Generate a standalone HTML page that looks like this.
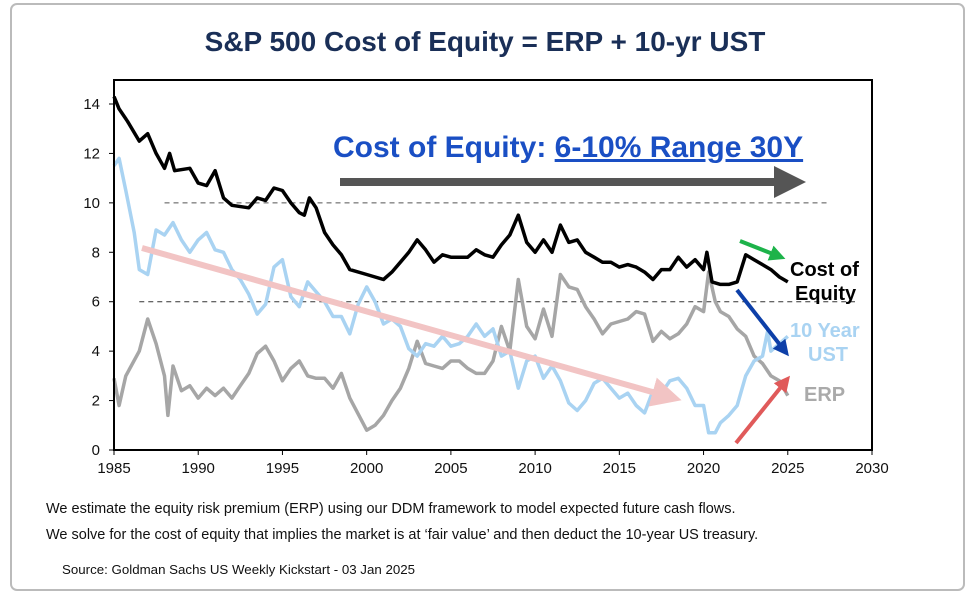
<!DOCTYPE html>
<html><head><meta charset="utf-8"><style>
body{margin:0;background:#fff;font-family:"Liberation Sans",Arial,sans-serif}
svg{display:block}
</style></head><body>
<svg width="969" height="601" viewBox="0 0 969 601" xmlns="http://www.w3.org/2000/svg">
<defs>
<marker id="mGray" markerWidth="4" markerHeight="4" refX="2" refY="2" orient="auto" markerUnits="strokeWidth"><path d="M0,0L4,2L0,4z" fill="#555"/></marker>
<marker id="mPink" markerWidth="5" markerHeight="5" refX="3" refY="2.5" orient="auto" markerUnits="strokeWidth"><path d="M0,0L5,2.5L0,5z" fill="#f2c4c4"/></marker>
<marker id="mGreen" markerWidth="4" markerHeight="4" refX="2" refY="2" orient="auto" markerUnits="strokeWidth"><path d="M0,0L4,2L0,4z" fill="#1db34a"/></marker>
<marker id="mBlue" markerWidth="4" markerHeight="4" refX="2" refY="2" orient="auto" markerUnits="strokeWidth"><path d="M0,0L4,2L0,4z" fill="#0d3fa8"/></marker>
<marker id="mRed" markerWidth="4" markerHeight="4" refX="2" refY="2" orient="auto" markerUnits="strokeWidth"><path d="M0,0L4,2L0,4z" fill="#e05a5a"/></marker>
</defs>
<rect x="11" y="4" width="953" height="586" rx="6" fill="#fff" stroke="#bbb" stroke-width="2"/>
<text x="485" y="51" text-anchor="middle" font-size="28" font-weight="bold" fill="#1a2f57">S&amp;P 500 Cost of Equity = ERP + 10-yr UST</text>
<g id="plot"></g>
<text x="333" y="157" font-size="30" font-weight="bold" fill="#1a4fc4">Cost of Equity: <tspan text-decoration="underline">6-10% Range 30Y</tspan></text>
<line x1="340" y1="182" x2="790" y2="182" stroke="#555" stroke-width="8" marker-end="url(#mGray)"/>
<line x1="142" y1="248" x2="670" y2="397" stroke="#f2c4c4" stroke-width="6" marker-end="url(#mPink)"/>
<line x1="740" y1="241" x2="778" y2="256" stroke="#1db34a" stroke-width="4" marker-end="url(#mGreen)"/>
<line x1="737" y1="290" x2="784" y2="350" stroke="#0d3fa8" stroke-width="4" marker-end="url(#mBlue)"/>
<line x1="736" y1="443" x2="785" y2="382" stroke="#e05a5a" stroke-width="4" marker-end="url(#mRed)"/>
<text x="790" y="276" font-size="20" font-weight="bold" fill="#000">Cost of</text>
<text x="795" y="300" font-size="20" font-weight="bold" fill="#000">Equity</text>
<text x="790" y="337" font-size="20" font-weight="bold" fill="#a9d3f2">10 Year</text>
<text x="808" y="361" font-size="20" font-weight="bold" fill="#a9d3f2">UST</text>
<text x="804" y="401" font-size="20" font-weight="bold" fill="#aaa">ERP</text>
<text x="46" y="513" font-size="14.5" fill="#111">We estimate the equity risk premium (ERP) using our DDM framework to model expected future cash flows.</text>
<text x="46" y="539" font-size="14.5" fill="#111">We solve for the cost of equity that implies the market is at ‘fair value’ and then deduct the 10-year US treasury.</text>
<text x="62" y="574" font-size="13.3" fill="#111">Source: Goldman Sachs US Weekly Kickstart - 03 Jan 2025</text>
</svg>
<script>
const yearTicks=[1985,1990,1995,2000,2005,2010,2015,2020,2025,2030];
const valueTicks=[0,2,4,6,8,10,12,14];
const coeYears=[1985,1985.3,1985.8,1986.5,1987,1987.5,1988,1988.3,1988.6,1989.5,1990,1990.5,1991,1991.5,1992,1993,1993.5,1994,1994.5,1995,1995.5,1996,1996.3,1996.6,1997,1997.5,1998,1998.5,1999,2000,2001,2001.5,2002,2002.5,2003,2003.5,2004,2004.5,2005,2006,2006.5,2007,2007.5,2008,2008.5,2009,2009.5,2010,2010.5,2011,2011.5,2012,2012.5,2013,2013.5,2014,2014.5,2015,2015.5,2016,2016.5,2017,2017.5,2018,2018.5,2019,2019.5,2020,2020.2,2020.5,2021,2021.5,2022,2022.5,2023,2023.5,2024,2024.5,2025];
const coeValues=[14.3,13.8,13.3,12.5,12.8,12.0,11.4,12.0,11.3,11.4,10.8,10.7,11.3,10.2,9.9,9.8,10.2,10.1,10.6,10.5,10.0,9.6,9.5,10.2,9.8,8.8,8.3,7.9,7.3,7.1,6.9,7.2,7.6,8.0,8.5,8.1,7.6,7.9,7.8,7.8,8.1,7.9,7.8,8.3,8.7,9.5,8.4,8.0,8.5,8.0,9.1,8.4,8.5,8.0,7.8,7.6,7.6,7.4,7.5,7.4,7.2,6.9,7.3,7.3,7.8,7.4,7.7,7.3,8.0,6.8,6.7,6.7,6.8,7.9,7.7,7.5,7.3,7.0,6.8];
const ustYears=[1985,1985.3,1985.7,1986.2,1986.5,1987,1987.5,1988,1988.5,1989,1989.5,1990,1990.5,1991,1991.5,1992,1992.5,1993,1993.5,1994,1994.5,1995,1995.5,1996,1996.5,1997,1997.5,1998,1998.5,1999,1999.5,2000,2000.5,2001,2001.5,2002,2002.5,2003,2003.5,2004,2004.5,2005,2005.5,2006,2006.5,2007,2007.5,2008,2008.5,2009,2009.5,2010,2010.5,2011,2011.5,2012,2012.5,2013,2013.5,2014,2014.5,2015,2015.5,2016,2016.5,2017,2017.5,2018,2018.5,2019,2019.5,2020,2020.3,2020.7,2021,2021.5,2022,2022.5,2023,2023.5,2023.8,2024,2024.5,2025];
const ustValues=[11.5,11.8,10.5,8.8,7.3,7.1,8.9,8.7,9.2,8.5,8.0,8.5,8.8,8.1,8.0,7.3,6.9,6.3,5.5,5.9,7.4,7.7,6.2,5.8,6.8,6.4,6.0,5.4,5.4,4.7,5.9,6.6,6.0,5.1,5.3,5.0,4.1,3.8,4.3,4.2,4.6,4.2,4.3,4.6,5.1,4.6,4.9,3.8,4.0,2.5,3.6,3.8,2.9,3.4,2.8,1.9,1.6,2.0,2.7,2.9,2.5,2.1,2.3,1.8,1.5,2.4,2.3,2.8,2.9,2.5,1.8,1.8,0.7,0.7,1.1,1.4,1.8,3.0,3.6,3.8,4.8,4.0,4.3,4.6];
const erpYears=[1985,1985.3,1985.7,1986.5,1987,1987.5,1988,1988.2,1988.5,1989,1989.5,1990,1990.5,1991,1991.5,1992,1992.5,1993,1993.5,1994,1994.5,1995,1995.5,1996,1996.5,1997,1997.5,1998,1998.5,1999,2000,2000.5,2001,2001.5,2002,2002.5,2003,2003.5,2004,2004.5,2005,2005.5,2006,2006.5,2007,2007.5,2008,2008.5,2009,2009.5,2010,2010.5,2011,2011.5,2012,2012.5,2013,2013.5,2014,2014.5,2015,2015.5,2016,2016.5,2017,2017.5,2018,2018.5,2019,2019.5,2020,2020.3,2020.7,2021,2021.5,2022,2022.5,2023,2023.5,2024,2024.5,2025];
const erpValues=[2.9,1.8,3.0,4.0,5.3,4.3,3.0,1.4,3.4,2.4,2.6,2.1,2.5,2.2,2.5,2.1,2.6,3.1,3.9,4.2,3.6,2.8,3.3,3.6,3.0,2.9,2.9,2.5,3.1,2.1,0.8,1.0,1.4,2.0,2.5,3.3,4.4,3.5,3.4,3.3,3.6,3.6,3.3,3.1,3.1,3.6,5.0,4.0,6.9,5.0,4.5,5.7,4.6,7.1,6.6,6.5,5.8,5.3,4.7,5.1,5.2,5.3,5.6,5.5,4.4,4.8,4.5,4.7,5.1,5.8,5.6,7.2,6.0,5.6,5.4,4.9,4.6,3.8,3.5,3.0,2.8,2.2];

const NS='http://www.w3.org/2000/svg';
const L=114,R=872,T=80,B=450;
const xS=v=>L+(v-1985)/(2030-1985)*(R-L);
const yS=v=>B-v/14*(B-104);
const g=document.getElementById('plot');
function mk(tag,attrs){const e=document.createElementNS(NS,tag);for(const k in attrs)e.setAttribute(k,attrs[k]);g.appendChild(e);return e;}
let e;
e=mk('line',{x1:xS(1988),x2:830,y1:yS(10),y2:yS(10),stroke:'#555','stroke-dasharray':'5,4','stroke-width':1});


e=mk('line',{x1:xS(1986.5),x2:855,y1:yS(6),y2:yS(6),stroke:'#333','stroke-dasharray':'5,4','stroke-width':1});


function series(xs,ys,color,w,name){
  const d=xs.map((x,i)=>(i?'L':'M')+xS(x).toFixed(1)+','+yS(ys[i]).toFixed(1)).join('');
  const p=mk('path',{d:d,fill:'none',stroke:color,'stroke-width':w,'stroke-linejoin':'round'});
  
  
}
series(erpYears,erpValues,'#a6a6a6',3.5,'erp-line');
series(ustYears,ustValues,'#a9d3f2',3.5,'ust-line');
series(coeYears,coeValues,'#000',3.5,'cost-of-equity-line');
e=mk('rect',{x:L,y:T,width:R-L,height:B-T,fill:'none',stroke:'#000','stroke-width':2});


yearTicks.forEach(t=>{
  const tk=mk('line',{x1:xS(t),x2:xS(t),y1:B,y2:B+5,stroke:'#000'});
  
  
  const tx=mk('text',{x:xS(t),y:B+23,'text-anchor':'middle','font-size':15,fill:'#111'});
  tx.textContent=t;
  
  
});
valueTicks.forEach(t=>{
  const tk=mk('line',{x1:L-5,x2:L,y1:yS(t),y2:yS(t),stroke:'#000'});
  
  
  const tx=mk('text',{x:L-14,y:yS(t)+5,'text-anchor':'end','font-size':15,fill:'#111'});
  tx.textContent=t;
  
  
});
</script>
</body></html>
